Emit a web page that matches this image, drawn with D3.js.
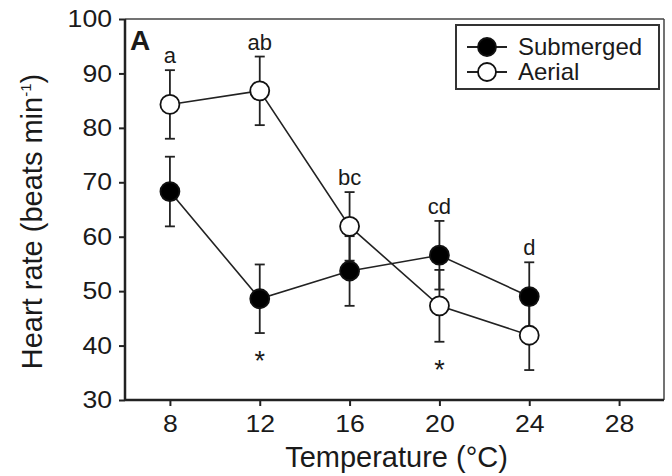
<!DOCTYPE html>
<html>
<head>
<meta charset="utf-8">
<script src="https://cdn.jsdelivr.net/npm/d3@7"></script>
<style>
  body { margin: 0; background: #fff; }
  text { font-family: Arial, "Liberation Sans", sans-serif; fill: #1a1a1a; }
</style>
</head>
<body>
<svg id="chart" width="672" height="476"></svg>
<script>
var temps = [8, 12, 16, 20, 24];
var submergedMean = [68.3, 48.6, 53.7, 56.6, 49.0];
var submergedSE = [6.4, 6.3, 6.4, 6.3, 6.3];
var aerialMean = [84.3, 86.8, 61.9, 47.3, 41.9];
var aerialSE = [6.3, 6.3, 6.3, 6.6, 6.4];
var groupLetters = ["a", "ab", "bc", "cd", "d"];
var starTemps = [12, 20];
var xTicks = [8, 12, 16, 20, 24, 28];
var yTicks = [30, 40, 50, 60, 70, 80, 90, 100];

var svg = d3.select("#chart");
var plotLeft = 125, plotRight = 664, plotTop = 19, plotBottom = 400;

var x = d3.scaleLinear().domain([6, 30]).range([plotLeft, plotRight]);
var y = d3.scaleLinear().domain([30, 100]).range([plotBottom, plotTop]);

// series built from the arrays
var series = [
    { name: "Submerged", fill: "#000", mean: submergedMean, se: submergedSE },
    { name: "Aerial", fill: "#fff", mean: aerialMean, se: aerialSE }
];
series.forEach(function (s) {
    s.points = temps.map(function (t, i) {
        return { t: t, m: s.mean[i], se: s.se[i] };
    });
});

// frame (top / right thinner)
svg.append("line").attr("x1", plotLeft).attr("x2", plotRight).attr("y1", plotTop).attr("y2", plotTop)
    .attr("stroke", "#444").attr("stroke-width", 1.5);
svg.append("line").attr("x1", plotRight).attr("x2", plotRight).attr("y1", plotTop).attr("y2", plotBottom)
    .attr("stroke", "#444").attr("stroke-width", 1.5);

// axes
var xAxis = d3.axisBottom(x).tickValues(xTicks).tickSize(6).tickPadding(9);
var yAxis = d3.axisLeft(y).tickValues(yTicks).tickSize(6).tickPadding(7);

var gx = svg.append("g").attr("transform", "translate(0," + plotBottom + ")").call(xAxis);
var gy = svg.append("g").attr("transform", "translate(" + plotLeft + ",0)").call(yAxis);
[gx, gy].forEach(function (g) {
    g.attr("font-size", null).attr("font-family", null);
    g.select(".domain").attr("stroke", "#222").attr("stroke-width", 2.5);
    g.selectAll(".tick line").attr("stroke", "#222").attr("stroke-width", 2);
    // the scanned figure is a little wider than tall, so stretch the labels
    g.selectAll(".tick text").style("font-size", "24px").attr("fill", "#1a1a1a")
        .attr("lengthAdjust", "spacingAndGlyphs")
        .attr("textLength", function (d) { return String(d).length * 14.8; });
});
gx.select(".domain").attr("d", "M" + plotLeft + ",0H" + plotRight);
gy.select(".domain").attr("d", "M0," + plotBottom + "V" + plotTop);

// axis titles
svg.append("text").attr("x", (plotLeft + plotRight) / 2 + 2).attr("y", 467)
    .attr("text-anchor", "middle").style("font-size", "29px")
    .text("Temperature (\u00B0C)");

var yt = svg.append("text")
    .attr("transform", "translate(42," + ((plotTop + plotBottom) / 2 + 12) + ") rotate(-90)")
    .attr("text-anchor", "middle").style("font-size", "29px");
yt.append("tspan").text("Heart rate (beats min");
yt.append("tspan").attr("dy", -11).style("font-size", "15px").text("-1");
yt.append("tspan").attr("dy", 11).text(")");

// panel label
svg.append("text").attr("x", 130).attr("y", 50).style("font-size", "28px")
    .style("font-weight", "bold").text("A");

// connecting lines
var line = d3.line().x(function (d) { return x(d.t); }).y(function (d) { return y(d.m); });
series.forEach(function (s) {
    svg.append("path").datum(s.points).attr("d", line)
        .attr("fill", "none").attr("stroke", "#222").attr("stroke-width", 1.6);
});

// error bars
series.forEach(function (s) {
    var g = svg.append("g").attr("stroke", "#222").attr("stroke-width", 1.8);
    g.selectAll("line.v").data(s.points).enter().append("line")
        .attr("x1", function (d) { return x(d.t); })
        .attr("x2", function (d) { return x(d.t); })
        .attr("y1", function (d) { return y(d.m - d.se); })
        .attr("y2", function (d) { return y(d.m + d.se); });
    [-1, 1].forEach(function (sign) {
        g.selectAll(null).data(s.points).enter().append("line")
            .attr("x1", function (d) { return x(d.t) - 5; })
            .attr("x2", function (d) { return x(d.t) + 5; })
            .attr("y1", function (d) { return y(d.m + sign * d.se); })
            .attr("y2", function (d) { return y(d.m + sign * d.se); });
    });
});

// markers
series.forEach(function (s) {
    svg.selectAll(null).data(s.points).enter().append("circle")
        .attr("cx", function (d) { return x(d.t); })
        .attr("cy", function (d) { return y(d.m); })
        .attr("r", 9.5)
        .attr("fill", s.fill).attr("stroke", "#111").attr("stroke-width", 1.8);
});

// group letters above the highest error bar
svg.selectAll("text.letter").data(temps).enter().append("text")
    .attr("class", "letter")
    .attr("x", function (t) { return x(t); })
    .attr("y", function (t, i) {
        var hi = Math.max(submergedMean[i] + submergedSE[i], aerialMean[i] + aerialSE[i]);
        return y(hi) - 7;
    })
    .attr("text-anchor", "middle").style("font-size", "22px")
    .text(function (t, i) { return groupLetters[i]; });

// significance stars below the lowest error bar
svg.selectAll("text.star").data(starTemps).enter().append("text")
    .attr("class", "star")
    .attr("x", function (t) { return x(t); })
    .attr("y", function (t) {
        var i = temps.indexOf(t);
        var lo = Math.min(submergedMean[i] - submergedSE[i], aerialMean[i] - aerialSE[i]);
        return y(lo) + 37;
    })
    .attr("text-anchor", "middle").style("font-size", "27px")
    .text("*");

// legend
var legend = svg.append("g");
legend.append("rect").attr("x", 456).attr("y", 25).attr("width", 203).attr("height", 64)
    .attr("fill", "#fff").attr("stroke", "#333").attr("stroke-width", 2);
series.forEach(function (s, i) {
    var ly = 47 + i * 25;
    legend.append("line").attr("x1", 467).attr("x2", 507).attr("y1", ly).attr("y2", ly)
        .attr("stroke", "#222").attr("stroke-width", 1.8);
    legend.append("circle").attr("cx", 487).attr("cy", ly).attr("r", 9)
        .attr("fill", s.fill).attr("stroke", "#111").attr("stroke-width", 1.8);
    legend.append("text").attr("x", 518).attr("y", ly + 8).style("font-size", "24px")
        .text(s.name);
});
</script>
</body>
</html>
